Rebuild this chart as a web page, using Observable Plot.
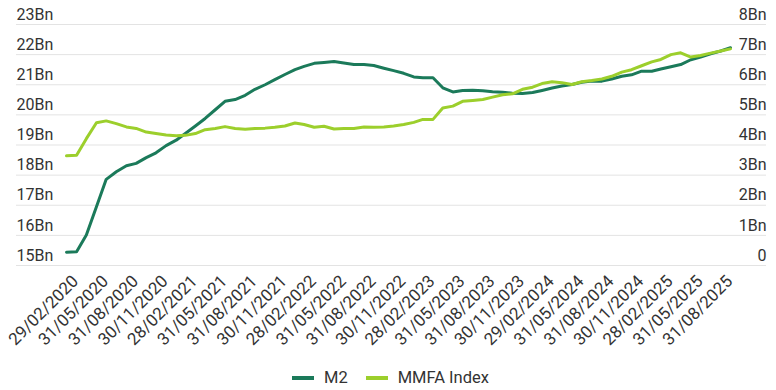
<!DOCTYPE html>
<html><head><meta charset="utf-8">
<script src="https://cdn.jsdelivr.net/npm/d3@7"></script>
<script src="https://cdn.jsdelivr.net/npm/@observablehq/plot@0.6"></script>
<style>
body{margin:0;background:#fff;font-family:Roboto,sans-serif;}
#legend{display:flex;justify-content:center;gap:18px;margin-top:18px;padding-left:5px;font-size:16.5px;line-height:20px;color:#333;}
.item{display:flex;align-items:center;gap:10px}
.sw{width:22px;height:4px}
</style></head>
<body>
<div id="chart"></div>
<div id="legend"></div>
<script>
const startMonth = "2020-02";
const m2 = [15.44,15.46,16.01,16.95,17.86,18.11,18.31,18.39,18.58,18.74,18.98,19.16,19.38,19.63,
  19.88,20.17,20.45,20.51,20.65,20.85,21.0,21.17,21.34,21.5,21.61,21.71,21.74,
  21.77,21.72,21.67,21.67,21.64,21.55,21.47,21.38,21.26,21.23,21.23,20.9,20.76,20.81,
  20.82,20.8,20.77,20.75,20.72,20.71,20.74,20.81,20.89,20.96,21.01,21.08,21.12,
  21.12,21.19,21.28,21.33,21.45,21.45,21.52,21.6,21.67,21.83,21.92,22.03,22.12,22.23];
const mmfa = [3.64,3.66,4.21,4.74,4.80,4.71,4.60,4.55,4.43,4.38,4.33,4.31,4.32,4.38,
  4.51,4.55,4.61,4.55,4.52,4.55,4.56,4.59,4.63,4.73,4.68,4.59,4.62,
  4.53,4.55,4.55,4.60,4.59,4.60,4.63,4.68,4.75,4.85,4.85,5.23,5.29,5.45,
  5.48,5.51,5.59,5.67,5.70,5.85,5.92,6.04,6.10,6.07,6.01,6.10,6.14,
  6.19,6.28,6.42,6.50,6.63,6.76,6.84,7.00,7.06,6.92,6.97,7.05,7.12,7.19];
const tickLabels = ["29/02/2020","31/05/2020","31/08/2020","30/11/2020","28/02/2021","31/05/2021",
  "31/08/2021","30/11/2021","28/02/2022","31/05/2022","31/08/2022","30/11/2022","28/02/2023",
  "31/05/2023","31/08/2023","30/11/2023","29/02/2024","31/05/2024","31/08/2024","30/11/2024",
  "28/02/2025","31/05/2025","31/08/2025"];
const leftTicks = [15,16,17,18,19,20,21,22,23];
const rightOffset = 15; // right axis value = left axis value - 15
const seriesNames = ["M2","MMFA Index"];
const colors = ["#1b7a5a","#9ccf2c"];

const parse = d3.utcParse("%d/%m/%Y");
const start = d3.utcParse("%Y-%m")(startMonth);
const dates = m2.map((_, i) => d3.utcDay.offset(d3.utcMonth.offset(start, i + 1), -1));
const rows = dates.map((date, i) => ({date, m2: m2[i], mmfa: mmfa[i]}));
const tickDates = tickLabels.map(parse);
const fmt = d3.utcFormat("%d/%m/%Y");

const chart = Plot.plot({
  width: 776, height: 350,
  marginTop: 24, marginBottom: 85, marginLeft: 16, marginRight: 10,
  style: {fontFamily: "Roboto, sans-serif", fontSize: "16px", color: "#333", background: "#fff"},
  x: {type: "utc", domain: [dates[0], dates[dates.length - 1]], insetLeft: 50, insetRight: 36},
  y: {domain: [15, 23]},
  marks: [
    Plot.gridY(leftTicks, {stroke: "#e3e3e3", strokeOpacity: 1}),
    Plot.axisY(leftTicks, {anchor: "left", tickSize: 0, tickPadding: 0, textAnchor: "start", dy: -10,
      tickFormat: d => d + "Bn", label: null, fill: "#333"}),
    Plot.axisY(leftTicks, {anchor: "right", tickSize: 0, tickPadding: 0, textAnchor: "end", dy: -10,
      tickFormat: d => (d - rightOffset) === 0 ? "0" : (d - rightOffset) + "Bn", label: null, fill: "#333"}),
    Plot.axisX(tickDates, {tickRotate: -45, tickSize: 0, tickPadding: 13, dx: 9, fontSize: 17,
      tickFormat: fmt, label: null, fill: "#333"}),
    Plot.lineY(rows, {x: "date", y: "m2", stroke: colors[0], strokeWidth: 3}),
    Plot.lineY(rows, {x: "date", y: d => d.mmfa + rightOffset, stroke: colors[1], strokeWidth: 3})
  ]
});
document.getElementById("chart").appendChild(chart);

const legend = document.getElementById("legend");
seriesNames.forEach((name, i) => {
  const it = document.createElement("div");
  it.className = "item";
  it.innerHTML = `<span class="sw" style="background:${colors[i]}"></span><span>${name}</span>`;
  legend.appendChild(it);
});
</script>
</body></html>
